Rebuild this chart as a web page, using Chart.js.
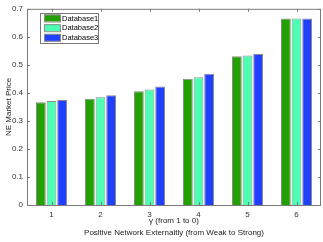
<!DOCTYPE html>
<html>
<head>
<meta charset="utf-8">
<script src="https://cdn.jsdelivr.net/npm/chart.js@4"></script>
<style>
  html, body { margin: 0; padding: 0; background: #fff; }
  #wrap { width: 323px; height: 242px; }
</style>
</head>
<body>
<div id="wrap"><canvas id="chart" width="323" height="242"></canvas></div>
<script>
const categories = ['1', '2', '3', '4', '5', '6'];
const database1 = [0.367, 0.379, 0.406, 0.450, 0.531, 0.665];
const database2 = [0.371, 0.384, 0.412, 0.456, 0.533, 0.665];
const database3 = [0.375, 0.392, 0.423, 0.468, 0.539, 0.665];
const yTicks = [0, 0.1, 0.2, 0.3, 0.4, 0.5, 0.6, 0.7];

const edge = '#8a8a8a';
const font = 'Liberation Sans, Arial, sans-serif';

// inward ticks, box and inset legend like the original figure
const matlabAxes = {
  id: 'matlabAxes',
  afterDatasetsDraw(chart) {
    const c = chart.ctx, a = chart.chartArea;
    const xs = chart.scales.x, ys = chart.scales.y;
    c.save();
    c.strokeStyle = '#7a7a7a';
    c.lineWidth = 1;
    c.strokeRect(a.left + 0.5, a.top + 0.5, a.right - a.left - 1, a.bottom - a.top);
    c.beginPath();
    categories.forEach((_, i) => {
      const x = Math.round(xs.getPixelForValue(i)) + 0.5;
      c.moveTo(x, a.bottom); c.lineTo(x, a.bottom - 3);
      c.moveTo(x, a.top); c.lineTo(x, a.top + 3);
    });
    yTicks.forEach(v => {
      const y = Math.round(ys.getPixelForValue(v)) + 0.5;
      c.moveTo(a.left, y); c.lineTo(a.left + 3, y);
      c.moveTo(a.right, y); c.lineTo(a.right - 3, y);
    });
    c.stroke();

    // legend
    const lx = 40, ly = 13, lw = 58, lh = 30;
    c.fillStyle = '#fff';
    c.fillRect(lx, ly, lw, lh);
    c.strokeStyle = '#7a7a7a';
    c.strokeRect(lx + 0.5, ly + 0.5, lw, lh);
    c.font = '7.5px ' + font;
    c.textBaseline = 'middle';
    chart.data.datasets.forEach((ds, i) => {
      const cy = ly + 4.5 + i * 9.7;
      c.fillStyle = ds.backgroundColor;
      c.fillRect(lx + 4, cy - 3, 16, 7);
      c.strokeStyle = edge;
      c.strokeRect(lx + 4.5, cy - 2.5, 16, 7);
      c.fillStyle = '#000';
      c.fillText(ds.label, lx + 22, cy + 1);
    });
    c.restore();
  }
};

new Chart(document.getElementById('chart'), {
  type: 'bar',
  data: {
    labels: categories,
    datasets: [
      { label: 'Database1', data: database1, backgroundColor: '#22a000' },
      { label: 'Database2', data: database2, backgroundColor: '#4dffb3' },
      { label: 'Database3', data: database3, backgroundColor: '#2040ff' }
    ]
  },
  options: {
    responsive: false,
    animation: false,
    devicePixelRatio: 1,
    layout: { padding: { top: 5, right: 2, left: 0, bottom: 0 } },
    datasets: {
      bar: {
        categoryPercentage: 0.65,
        barPercentage: 0.92,
        borderColor: edge,
        borderWidth: 1
      }
    },
    plugins: {
      legend: { display: false },
      tooltip: { enabled: false }
    },
    scales: {
      x: {
        grid: { display: false, drawTicks: false },
        border: { display: false },
        ticks: { color: '#333', font: { family: font, size: 8 }, padding: 5 },
        title: {
          display: true,
          text: ['\u03b3 (from 1 to 0)', 'Positive Network Externaltly (from Weak to Strong)'],
          color: '#222',
          font: { family: font, size: 8, lineHeight: 1.55 },
          padding: { top: 1, bottom: 3 }
        },
        afterFit: s => { s.height = 37; }
      },
      y: {
        min: 0,
        max: 0.7,
        afterBuildTicks: s => { s.ticks = yTicks.map(v => ({ value: v })); },
        grid: { display: false, drawTicks: false },
        border: { display: false },
        ticks: { color: '#333', font: { family: font, size: 8 }, padding: 4,
                 callback: v => String(Math.round(v * 10) / 10) },
        title: {
          display: true,
          text: 'NE Market Price',
          color: '#222',
          font: { family: font, size: 8 },
          padding: { top: 4, bottom: 0 }
        },
        afterFit: s => { s.width = 27; }
      }
    }
  },
  plugins: [matlabAxes]
});
</script>
</body>
</html>
